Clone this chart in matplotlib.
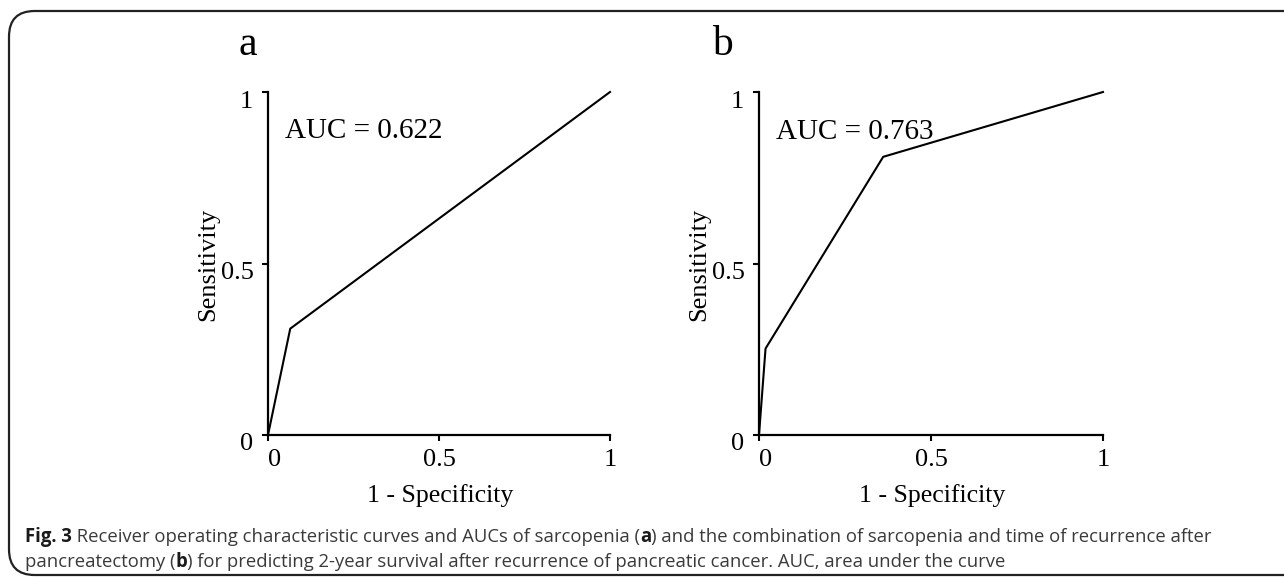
import matplotlib
matplotlib.use("Agg")
import matplotlib.pyplot as plt
from matplotlib.patches import FancyBboxPatch
from matplotlib.transforms import ScaledTranslation

# ---- data ----
fpr_a = [0.0, 0.065, 1.0]
tpr_a = [0.0, 0.31, 1.0]
fpr_b = [0.0, 0.019, 0.361, 1.0]
tpr_b = [0.0, 0.252, 0.811, 1.0]
auc_a = "AUC = 0.622"
auc_b = "AUC = 0.763"
panel_labels = ["a", "b"]
ticks = [0, 0.5, 1]
tick_labels = ["0", "0.5", "1"]
xlabel = "1 - Specificity"
ylabel = "Sensitivity"
caption_line1 = [("Fig. 3", True), (" Receiver operating characteristic curves and AUCs of sarcopenia (", False),
                 ("a", True), (") and the combination of sarcopenia and time of recurrence after", False)]
caption_line2 = [("pancreatectomy (", False), ("b", True),
                 (") for predicting 2-year survival after recurrence of pancreatic cancer. AUC, area under the curve", False)]

W, H = 1284, 578
fig = plt.figure(figsize=(W / 100, H / 100), dpi=100)
serif = "Liberation Serif"

# border
box = FancyBboxPatch((9 / W, 3 / H), (1400 - 9) / W, (567 - 3) / H,
                     boxstyle="round,pad=0,rounding_size=0.02",
                     transform=fig.transFigure, fill=False, lw=1.6, ec="#222222",
                     mutation_aspect=W / H)
fig.patches.append(box)

def make_panel(left, width, fx, fy, auc, auc_pos, label, label_x):
    ax = fig.add_axes([left / W, (H - 435) / H, width / W, 343 / H])
    ax.plot(fx, fy, color="black", lw=1.5, clip_on=False)
    ax.set_xlim(0, 1)
    ax.set_ylim(0, 1)
    for s in ["top", "right"]:
        ax.spines[s].set_visible(False)
    for s in ["left", "bottom"]:
        ax.spines[s].set_linewidth(1.6)
    ax.set_xticks(ticks)
    ax.set_yticks(ticks)
    ax.set_xticklabels(tick_labels, fontfamily=serif, fontsize=19)
    ax.set_yticklabels(tick_labels, fontfamily=serif, fontsize=19)
    ax.tick_params(axis="x", length=4, width=1.5, pad=6, direction="out")
    ax.tick_params(axis="y", length=4, width=1.5, pad=6.5, direction="out")
    # small offsets of the labels as in the original
    xl0 = ax.get_xticklabels()[0]
    xl0.set_transform(xl0.get_transform() + ScaledTranslation(7 / 100, 0, fig.dpi_scale_trans))
    for yl in ax.get_yticklabels():
        yl.set_transform(yl.get_transform() + ScaledTranslation(0, -7 / 100, fig.dpi_scale_trans))
    ax.set_xlabel(xlabel, fontfamily=serif, fontsize=18.6, va="center")
    ax.xaxis.set_label_coords(0.503, -0.175)
    ax.set_ylabel(ylabel, fontfamily=serif, fontsize=19, va="center")
    ax.yaxis.set_label_coords(-0.175, 0.496)
    ax.text(auc_pos[0], auc_pos[1], auc, transform=ax.transAxes, fontfamily=serif,
            fontsize=21, ha="left", va="baseline")
    fig.text(label_x / W, 1 - 45 / H, label, fontfamily=serif, fontsize=30,
             ha="center", va="center")
    return ax

make_panel(268, 342, fpr_a, tpr_a, auc_a, (0.05, 0.866), panel_labels[0], 248)
make_panel(759, 344, fpr_b, tpr_b, auc_b, (0.049, 0.863), panel_labels[1], 722)

# caption
renderer = fig.canvas.get_renderer()
cap_fs = 13.35
def draw_line(parts, x0, baseline):
    x = x0
    for txt, bold in parts:
        t = fig.text(x / W, 1 - baseline / H, txt, fontfamily="Open Sans",
                     fontsize=cap_fs, fontweight="bold" if bold else "normal",
                     color="#1a1a1a" if bold else "#3a3a3a", ha="left", va="baseline")
        bb = t.get_window_extent(renderer=renderer)
        x += bb.width

draw_line(caption_line1, 25, 542)
draw_line(caption_line2, 25, 567)

fig.savefig("out.png", dpi=100)
